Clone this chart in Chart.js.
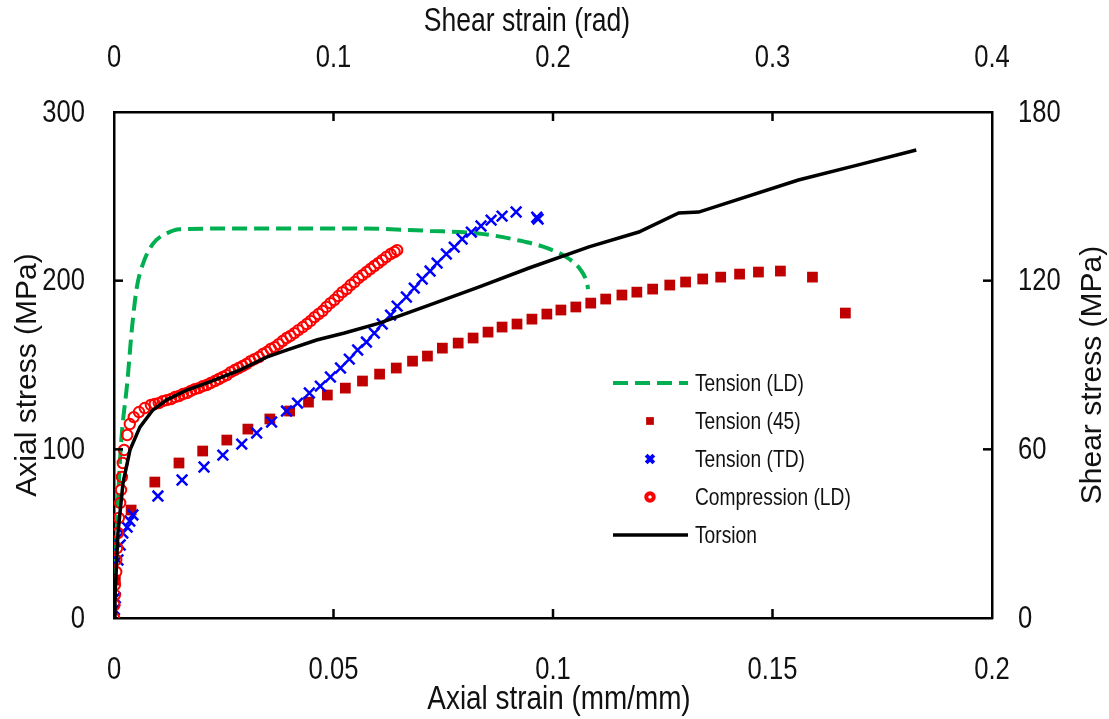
<!DOCTYPE html>
<html>
<head>
<meta charset="utf-8">
<title>Axial and shear stress-strain curves</title>
<script src="https://cdn.jsdelivr.net/npm/chart.js@4.4.1/dist/chart.umd.min.js"></script>
<style>
  html, body { margin: 0; padding: 0; background: #fff; }
  #wrap { width: 1109px; height: 719px; }
</style>
</head>
<body>
<div id="wrap"><canvas id="curvas" width="1109" height="719"></canvas></div>
<script>
// Tension (LD) - axial strain / axial stress (MPa)
const ldStrain = [0, 0.0003, 0.0006, 0.001, 0.0014, 0.0018, 0.003, 0.0041, 0.0052, 0.0066, 0.0089, 0.012, 0.015,
  0.031, 0.054, 0.072, 0.083, 0.092, 0.099, 0.1036, 0.1064, 0.1077, 0.108];
const ldStress = [0, 25, 50, 75, 95, 110, 139, 172, 196, 210, 222, 228, 230.5,
  231, 231, 229.5, 228, 224, 219, 213, 206, 199, 195];

// Tension (45)
const t45Strain = [0.0003, 0.0039, 0.0093, 0.0148, 0.0202, 0.0257, 0.0305, 0.0355, 0.04, 0.0443, 0.0486, 0.0527,
  0.0566, 0.0605, 0.0643, 0.068, 0.0714, 0.0748, 0.0784, 0.0818, 0.0852, 0.0884, 0.0918, 0.0952, 0.0986, 0.1018,
  0.1052, 0.1086, 0.112, 0.1157, 0.1191, 0.1227, 0.1266, 0.1302, 0.1341, 0.1382, 0.1425, 0.1468, 0.1518, 0.1591, 0.1666];
const t45Stress = [22.5, 64.0, 80.6, 91.9, 99.0, 105.5, 112.0, 118.0, 122.7, 128.0, 132.2, 136.3,
  140.5, 144.6, 148.2, 152.3, 155.3, 160.0, 163.0, 166.0, 169.5, 172.5, 174.3, 177.2, 180.2, 182.6,
  184.4, 186.7, 189.1, 191.5, 193.2, 195.0, 197.4, 199.2, 201.0, 202.1, 203.9, 205.1, 205.7, 202.1, 180.8];

// Tension (TD)
const tdStrain = [0.0001, 0.0003, 0.0009, 0.0014, 0.002, 0.003, 0.0036, 0.0043, 0.01, 0.0155, 0.0205, 0.0248,
  0.0291, 0.0325, 0.0359, 0.0393, 0.0418, 0.0445, 0.047, 0.0493, 0.0516, 0.0536, 0.0555, 0.0575, 0.0593, 0.0611,
  0.063, 0.0645, 0.0666, 0.0684, 0.0702, 0.072, 0.0736, 0.0757, 0.0775, 0.0793, 0.0814, 0.0836, 0.0859, 0.0884,
  0.0916, 0.0963, 0.0966];
const tdStress = [5, 12, 34.4, 43.3, 50.4, 53.9, 57.5, 61.1, 72.3, 81.8, 89.5, 96.6,
  103.1, 109.7, 116.2, 122.7, 127.4, 133.4, 137.5, 142.9, 148.2, 153.5, 158.9, 163.6, 168.9, 174.3,
  179.6, 184.9, 190.3, 195.6, 201.0, 205.7, 210.4, 215.8, 219.9, 224.7, 228.8, 232.4, 235.9, 238.3,
  240.7, 237.6, 236.5];

// Compression (LD)
const compStrain = [0, 0.0001, 0.0002, 0.0002, 0.0005, 0.0005, 0.0007, 0.0009, 0.0011, 0.0014, 0.0016, 0.0018,
  0.002, 0.0023, 0.003, 0.0036, 0.0045, 0.0057, 0.007,
  0.0084, 0.0093, 0.0102, 0.0111, 0.012, 0.013, 0.0139, 0.0148, 0.0157, 0.0166, 0.0175, 0.0184, 0.0193, 0.0202,
  0.0211, 0.022, 0.023, 0.0239, 0.0248, 0.0257, 0.0266, 0.0275, 0.0284, 0.0293, 0.0302, 0.0311, 0.032, 0.033,
  0.0339, 0.0348, 0.0357, 0.0366, 0.0375, 0.0384, 0.0393, 0.0402, 0.0411, 0.042, 0.043, 0.0439, 0.0448, 0.0457,
  0.0466, 0.0475, 0.0484, 0.0493, 0.0502, 0.0511, 0.052, 0.053, 0.0539, 0.0548, 0.0557, 0.0566, 0.0575, 0.0584,
  0.0593, 0.0602, 0.0611, 0.062, 0.063, 0.0639, 0.0645];
const compStress = [0, 7.7, 13.6, 19.6, 27.3, 34.4, 41.5, 50.4, 59.3, 68.2, 75.9, 83.6,
  91.9, 99.6, 108.5, 115.0, 119.1, 122.1, 124.5,
  126.3, 126.9, 127.4, 128.6, 129.2, 129.8, 131.0, 131.6, 132.8, 133.4, 134.6, 135.7, 136.3, 137.5,
  138.1, 139.3, 140.5, 141.7, 142.9, 144.0, 145.8, 147.0, 148.2, 149.4, 150.6, 152.3, 153.5, 154.7,
  156.5, 157.7, 159.5, 160.6, 162.4, 164.2, 166.0, 167.2, 168.9, 170.7, 172.5, 174.3, 176.1, 178.4,
  180.2, 182.0, 184.4, 186.7, 188.5, 190.9, 193.2, 195.0, 197.4, 199.2, 201.5, 203.3, 205.1, 206.9,
  208.7, 210.4, 212.2, 214.0, 215.8, 217.0, 218.1];

// Torsion - shear strain (rad) / shear stress (MPa), top and right axes
const torStrain = [0, 0.00045, 0.0018, 0.0041, 0.0073, 0.0118, 0.0177, 0.0241, 0.0332, 0.0436, 0.0573, 0.0695,
  0.0786, 0.0923, 0.105, 0.1209, 0.1436, 0.1664, 0.1891, 0.2164, 0.2391, 0.2573, 0.2664, 0.3118, 0.3391, 0.3655];
const torStress = [0, 7.5, 30.2, 48.0, 59.8, 67.9, 74.0, 77.6, 81.1, 84.0, 88.2, 92.8,
  95.3, 98.9, 101.4, 104.9, 111.3, 117.8, 124.5, 132.0, 137.3, 144.1, 144.4, 155.8, 161.2, 166.5];

// tick values
const axialStrainTicks = [0, 0.05, 0.1, 0.15, 0.2];
const shearStrainTicks = [0, 0.1, 0.2, 0.3, 0.4];
const axialStressTicks = [0, 100, 200, 300];
const shearStressTicks = [0, 60, 120, 180];

const FONT = "'Liberation Sans', Arial, sans-serif";
const TEXT = '#111';
const NARROW = 0.8;   // horizontal squeeze for upright text

function pts(xs, ys) {
  return xs.map((x, i) => ({ x: x, y: ys[i] }));
}

function fmt(v) {
  return String(+v.toFixed(3));
}

// upright text, horizontally condensed
function narrowText(ctx, str, x, y, size, align, sx) {
  ctx.save();
  ctx.translate(x, y);
  ctx.scale(sx || NARROW, 1);
  ctx.font = size + 'px ' + FONT;
  ctx.fillStyle = TEXT;
  ctx.textAlign = align;
  ctx.textBaseline = 'middle';
  ctx.fillText(str, 0, 0);
  ctx.restore();
}

function verticalText(ctx, str, x, y, size) {
  ctx.save();
  ctx.translate(x, y);
  ctx.rotate(-Math.PI / 2);
  ctx.font = size + 'px ' + FONT;
  ctx.fillStyle = TEXT;
  ctx.textAlign = 'center';
  ctx.textBaseline = 'middle';
  ctx.fillText(str, 0, 0);
  ctx.restore();
}

// tick marks point into the plot
const ticksInside = {
  id: 'ticksInside',
  afterDraw(chart) {
    const ctx = chart.ctx;
    const a = chart.chartArea;
    const len = 9;
    ctx.save();
    ctx.strokeStyle = '#000';
    ctx.lineWidth = 2.5;
    ['x', 'x2', 'y', 'y2'].forEach(id => {
      const s = chart.scales[id];
      s.ticks.forEach(t => {
        if (t.value <= s.min || t.value >= s.max) return;
        const p = s.getPixelForValue(t.value);
        ctx.beginPath();
        if (id === 'x') { ctx.moveTo(p, a.bottom); ctx.lineTo(p, a.bottom - len); }
        if (id === 'x2') { ctx.moveTo(p, a.top); ctx.lineTo(p, a.top + len); }
        if (id === 'y') { ctx.moveTo(a.left, p); ctx.lineTo(a.left + len, p); }
        if (id === 'y2') { ctx.moveTo(a.right, p); ctx.lineTo(a.right - len, p); }
        ctx.stroke();
      });
    });
    ctx.restore();
  }
};

// tick labels and axis titles
const axisText = {
  id: 'axisText',
  afterDraw(chart) {
    const ctx = chart.ctx;
    const a = chart.chartArea;
    const sc = chart.scales;
    sc.x.ticks.forEach(t => narrowText(ctx, fmt(t.value), sc.x.getPixelForValue(t.value), a.bottom + 52, 32, 'center'));
    sc.x2.ticks.forEach(t => narrowText(ctx, fmt(t.value), sc.x2.getPixelForValue(t.value), a.top - 54, 32, 'center'));
    sc.y.ticks.forEach(t => narrowText(ctx, fmt(t.value), a.left - 29, sc.y.getPixelForValue(t.value) + 1, 32, 'right'));
    sc.y2.ticks.forEach(t => narrowText(ctx, fmt(t.value), a.right + 26, sc.y2.getPixelForValue(t.value) + 1, 32, 'left'));

    narrowText(ctx, 'Axial strain (mm/mm)', 559, 700, 34, 'center', 0.82);
    narrowText(ctx, 'Shear strain (rad)', 527, 22, 34, 'center', 0.78);
    verticalText(ctx, 'Axial stress (MPa)', 28, 375, 30);
    verticalText(ctx, 'Shear stress (MPa)', 1093, 375, 30);
  }
};

// legend box inside the plot
const legendOrder = [4, 3, 2, 1, 0];
const insideLegend = {
  id: 'insideLegend',
  afterDraw(chart) {
    const ctx = chart.ctx;
    let y = 383;
    ctx.save();
    legendOrder.forEach(i => {
      const ds = chart.data.datasets[i];
      if (ds.showLine) {
        ctx.strokeStyle = ds.borderColor;
        ctx.lineWidth = ds.borderWidth;
        ctx.setLineDash(ds.borderDash || []);
        ctx.beginPath();
        ctx.moveTo(613, y);
        ctx.lineTo(688, y);
        ctx.stroke();
        ctx.setLineDash([]);
      } else {
        ctx.fillStyle = ds.pointBackgroundColor;
        ctx.strokeStyle = ds.pointBorderColor;
        Chart.helpers.drawPoint(ctx, {
          pointStyle: ds.pointStyle,
          radius: ds.pointRadius * 0.72,
          borderWidth: ds.pointBorderWidth,
          rotation: 0
        }, 650, y);
      }
      narrowText(ctx, ds.label, 695, y + 1, 24, 'left');
      y += 38;
    });
    ctx.restore();
  }
};

function axis(position, min, max, size, values) {
  return {
    type: 'linear',
    position: position,
    min: min,
    max: max,
    afterBuildTicks: s => { s.ticks = values.map(v => ({ value: v })); },
    afterFit: s => {
      if (position === 'top' || position === 'bottom') s.height = size;
      else s.width = size;
    },
    ticks: { display: false },
    grid: { drawOnChartArea: false, drawTicks: false },
    border: { display: true, color: '#000', width: 2.5 },
    title: { display: false }
  };
}

new Chart(document.getElementById('curvas'), {
  type: 'scatter',
  data: {
    datasets: [
      {
        label: 'Torsion',
        data: pts(torStrain, torStress),
        xAxisID: 'x2', yAxisID: 'y2',
        showLine: true,
        borderColor: '#000',
        borderWidth: 3.5,
        pointRadius: 0,
        tension: 0,
        order: 0
      },
      {
        label: 'Compression (LD)',
        data: pts(compStrain, compStress),
        xAxisID: 'x', yAxisID: 'y',
        showLine: false,
        pointStyle: 'circle',
        pointRadius: 5.2,
        pointBorderWidth: 2,
        pointBorderColor: '#ff0000',
        pointBackgroundColor: 'rgba(0,0,0,0)',
        order: 1
      },
      {
        label: 'Tension (TD)',
        data: pts(tdStrain, tdStress),
        xAxisID: 'x', yAxisID: 'y',
        showLine: false,
        pointStyle: 'crossRot',
        pointRadius: 7.5,
        pointBorderWidth: 2.5,
        pointBorderColor: '#0000ff',
        pointBackgroundColor: '#0000ff',
        order: 2
      },
      {
        label: 'Tension (45)',
        data: pts(t45Strain, t45Stress),
        xAxisID: 'x', yAxisID: 'y',
        showLine: false,
        pointStyle: 'rect',
        pointRadius: 7.6,
        pointBorderWidth: 0,
        pointBorderColor: '#c00000',
        pointBackgroundColor: '#c00000',
        order: 3
      },
      {
        label: 'Tension (LD)',
        data: pts(ldStrain, ldStress),
        xAxisID: 'x', yAxisID: 'y',
        showLine: true,
        borderColor: '#00b050',
        borderWidth: 4,
        borderDash: [15, 7],
        pointRadius: 0,
        cubicInterpolationMode: 'monotone',
        order: 4
      }
    ]
  },
  options: {
    responsive: false,
    animation: false,
    devicePixelRatio: 1,
    layout: { padding: 0 },
    plugins: {
      legend: { display: false },
      tooltip: { enabled: false }
    },
    scales: {
      x: axis('bottom', 0, 0.2, 101, axialStrainTicks),
      x2: axis('top', 0, 0.4, 112, shearStrainTicks),
      y: axis('left', 0, 300, 114, axialStressTicks),
      y2: axis('right', 0, 180, 117, shearStressTicks)
    }
  },
  plugins: [ticksInside, axisText, insideLegend]
});
</script>
</body>
</html>
